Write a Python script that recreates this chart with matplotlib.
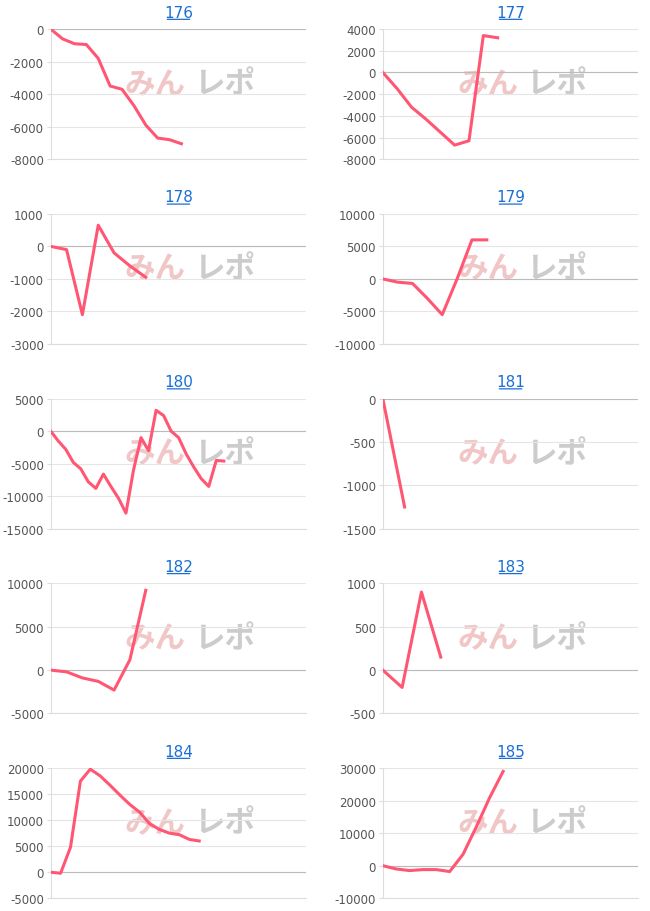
import matplotlib.pyplot as plt

titles = ["176", "177", "178", "179", "180", "181", "182", "183", "184", "185"]
series = [
    [0, -600, -900, -950, -1800, -3500, -3700, -4700, -5900, -6700, -6800, -7050],
    [0, -1500, -3200, -4300, -5500, -6700, -6300, 3400, 3200],
    [0, -100, -2100, 650, -200, -600, -950],
    [0, -500, -700, -3000, -5500, 0, 6000, 6000],
    [0, -1500, -2800, -4800, -5800, -7800, -8800, -6600, -8500, -10300, -12600, -6000,
     -1000, -3000, 3200, 2400, 0, -1000, -3500, -5500, -7300, -8500, -4500, -4600],
    [0, -1250],
    [0, -200, -900, -1300, -2300, 1200, 9200],
    [0, -200, 900, 150],
    [0, -200, 4800, 17500, 19800, 18500, 16700, 14800, 13000, 11500, 9300, 8200,
     7500, 7200, 6300, 6000],
    [0, -1000, -1500, -1200, -1200, -1800, 3500, 12000, 21000, 29000],
]
yticks = [
    [-8000, -6000, -4000, -2000, 0],
    [-8000, -6000, -4000, -2000, 0, 2000, 4000],
    [-3000, -2000, -1000, 0, 1000],
    [-10000, -5000, 0, 5000, 10000],
    [-15000, -10000, -5000, 0, 5000],
    [-1500, -1000, -500, 0],
    [-5000, 0, 5000, 10000],
    [-500, 0, 500, 1000],
    [-5000, 0, 5000, 10000, 15000, 20000],
    [-10000, 0, 10000, 20000, 30000],
]
# px spacing between points in each panel (axis width ~258px)
step_px = [12, 14.5, 16, 15, 7.6, 22, 16, 19.5, 10, 13.5]

fig, axes = plt.subplots(5, 2, figsize=(6.5, 9.12), dpi=100)
fig.subplots_adjust(left=0.078, right=0.982, top=0.967, bottom=0.014, wspace=0.3, hspace=0.42)
for ax, t, s, yt, sp in zip(axes.flat, titles, series, yticks, step_px):
    ax.plot(range(len(s)), s, color="#ff5773", lw=2.2, zorder=3)
    ax.set_xlim(0, 258 / sp)
    ax.set_yticks(yt)
    ax.set_ylim(yt[0], yt[-1])
    ax.set_yticklabels([str(v) for v in yt], fontsize=8.5, color="#555555")
    ax.set_xticks([])
    ax.grid(axis="y", color="#e5e5e5", lw=0.8)
    for k in ["top", "right"]:
        ax.spines[k].set_visible(False)
    ax.spines["left"].set_color("#dddddd")
    ax.spines["bottom"].set_color("#dddddd")
    ax.axhline(0, color="#bbbbbb", lw=0.8, zorder=2)
    ax.tick_params(axis="y", length=3, color="#dddddd", pad=2)
    ax.set_title(t, fontsize=11, color="#1a6fd6", pad=9)
    ax.text(0.41, 0.58, "みん", transform=ax.transAxes, ha="center", va="center",
            fontsize=22, fontweight="bold", style="italic", color="#e8a0a0", alpha=0.6,
            family=["Noto Sans CJK JP", "DejaVu Sans"], zorder=1)
    ax.text(0.68, 0.58, "レポ", transform=ax.transAxes, ha="center", va="center",
            fontsize=22, fontweight="bold", style="italic", color="#aaaaaa", alpha=0.6,
            family=["Noto Sans CJK JP", "DejaVu Sans"], zorder=1)
    ax.annotate("", xy=(0.445, 1.075), xytext=(0.555, 1.075), xycoords="axes fraction",
                arrowprops=dict(arrowstyle="-", color="#1a6fd6", lw=0.9))
fig.savefig("out.png")
